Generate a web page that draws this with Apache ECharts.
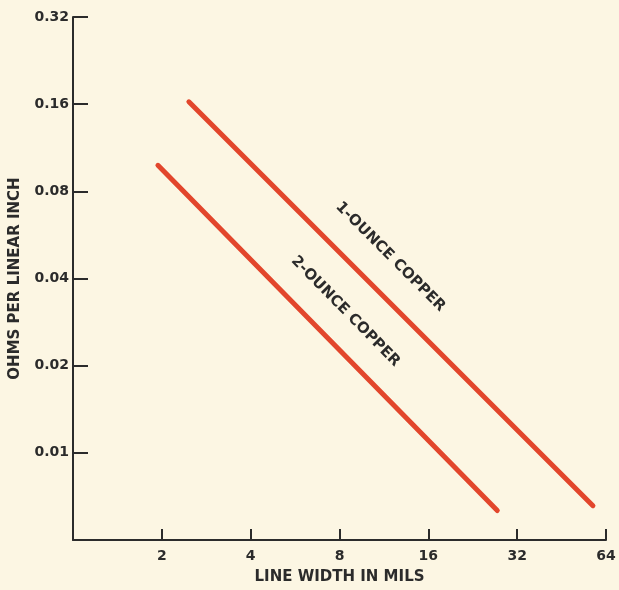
<!DOCTYPE html>
<html>
<head>
<meta charset="utf-8">
<script src="https://cdn.jsdelivr.net/npm/echarts@6/dist/echarts.min.js"></script>
<style>
html, body { margin: 0; padding: 0; background: #fcf6e3; }
#chart { width: 619px; height: 590px; }
</style>
</head>
<body>
<div id="chart"></div>
<script>
// line width (mils) vs resistance (ohms per linear inch)
const oneOzWidth = [2.47, 57.8];
const oneOzOhms = [0.163, 0.00657];
const twoOzWidth = [1.94, 27.4];
const twoOzOhms = [0.0984, 0.00632];

const xTicks = [2, 4, 8, 16, 32, 64];
const yTicks = [0.01, 0.02, 0.04, 0.08, 0.16, 0.32];

// text written along each line: [width, ohms]
const oneOzLabelAt = [11.9, 0.0475];
const twoOzLabelAt = [8.38, 0.0308];

// y axis runs 0.005 .. 0.32, drawn as a base-2 log axis in units of 0.005
const yUnit = 0.005;

const ink = '#2b2b2b';
const red = '#e2462c';
const font = '"DejaVu Sans", sans-serif';

const toPairs = (xs, ys) => xs.map((x, i) => [x, ys[i] / yUnit]);

const chart = echarts.init(document.getElementById('chart'));

const option = {
    backgroundColor: '#fcf6e3',
    animation: false,
    grid: { left: 71, right: 13, top: 17, bottom: 47 },
    xAxis: {
        type: 'log',
        logBase: 2,
        min: 1,
        max: 64,
        name: 'LINE WIDTH IN MILS',
        nameLocation: 'middle',
        nameGap: 30,
        nameTextStyle: { color: ink, fontFamily: font, fontWeight: 'bold', fontSize: 15 },
        axisLine: { lineStyle: { color: ink, width: 2 } },
        axisTick: { inside: true, length: 11, lineStyle: { color: ink, width: 2 } },
        axisLabel: {
            color: ink, fontFamily: font, fontWeight: 'bold', fontSize: 14, margin: 9,
            formatter: v => xTicks.includes(Math.round(v)) ? String(Math.round(v)) : ''
        },
        splitLine: { show: false }
    },
    yAxis: {
        type: 'log',
        logBase: 2,
        min: 1,
        max: 64,
        name: 'OHMS PER LINEAR INCH',
        nameLocation: 'middle',
        nameGap: 50,
        nameTextStyle: { color: ink, fontFamily: font, fontWeight: 'bold', fontSize: 15 },
        axisLine: { lineStyle: { color: ink, width: 2 } },
        axisTick: { inside: true, length: 15, lineStyle: { color: ink, width: 2 } },
        axisLabel: {
            color: ink, fontFamily: font, fontWeight: 'bold', fontSize: 14, margin: 4,
            formatter: v => {
                const ohms = +(v * yUnit).toFixed(4);
                return yTicks.includes(ohms) ? String(ohms) : '';
            }
        },
        splitLine: { show: false }
    },
    series: [
        {
            name: '1-OUNCE COPPER',
            type: 'line',
            data: toPairs(oneOzWidth, oneOzOhms),
            symbol: 'none',
            lineStyle: { color: red, width: 5, cap: 'round' }
        },
        {
            name: '2-OUNCE COPPER',
            type: 'line',
            data: toPairs(twoOzWidth, twoOzOhms),
            symbol: 'none',
            lineStyle: { color: red, width: 5, cap: 'round' }
        }
    ]
};

chart.setOption(option);

// place the line captions, rotated to follow each line
function caption(text, at, xs, ys) {
    const p = chart.convertToPixel({ gridIndex: 0 }, [at[0], at[1] / yUnit]);
    const a = chart.convertToPixel({ gridIndex: 0 }, [xs[0], ys[0] / yUnit]);
    const b = chart.convertToPixel({ gridIndex: 0 }, [xs[1], ys[1] / yUnit]);
    const angle = Math.atan2(b[1] - a[1], b[0] - a[0]);
    return {
        type: 'text',
        x: p[0],
        y: p[1],
        rotation: -angle,
        style: {
            text: text,
            align: 'center',
            verticalAlign: 'middle',
            fill: ink,
            font: 'bold 15px ' + font
        }
    };
}

chart.setOption({
    graphic: [
        caption('1-OUNCE COPPER', oneOzLabelAt, oneOzWidth, oneOzOhms),
        caption('2-OUNCE COPPER', twoOzLabelAt, twoOzWidth, twoOzOhms)
    ]
});
</script>
</body>
</html>
